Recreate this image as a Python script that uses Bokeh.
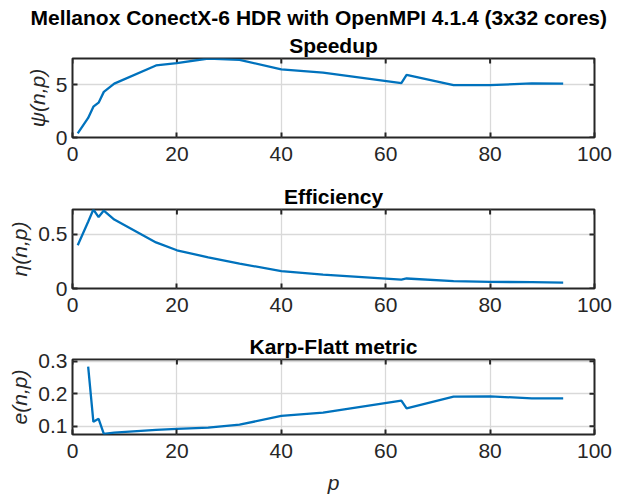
import math
from bokeh.plotting import figure
from bokeh.models import Range1d, FixedTicker, Title
from bokeh.layouts import column
from bokeh.embed import file_html
from bokeh.resources import INLINE

# ---- data ----
p_vals = [1, 3, 4, 5, 6, 8, 16, 20, 26, 32, 40, 48, 63, 64, 73, 80, 88, 94]
speedup = [0.40, 1.85, 2.92, 3.30, 4.32, 5.10, 6.82, 7.05, 7.48, 7.35, 6.45, 6.15,
           5.15, 5.92, 4.95, 4.95, 5.12, 5.10]
efficiency = [0.40, 0.617, 0.73, 0.66, 0.72, 0.637, 0.426, 0.353, 0.288, 0.23,
              0.161, 0.128, 0.082, 0.0925, 0.068, 0.062, 0.058, 0.054]
kf_p = [3, 4, 5, 6, 8, 16, 20, 26, 32, 40, 48, 63, 64, 73, 80, 88, 94]
karp_flatt = [0.283, 0.114, 0.123, 0.077, 0.081, 0.089, 0.092, 0.096, 0.105, 0.132,
              0.142, 0.179, 0.155, 0.191, 0.192, 0.186, 0.186]

x_ticks = [0, 20, 40, 60, 80, 100]
x_lo, x_hi = 0, 100
main_title = "Mellanox ConectX-6 HDR with OpenMPI 4.1.4 (3x32 cores)"

FONT = "Liberation Sans"
DARK = "#262626"
LINE = "#0072BD"
FS = "21px"
W = 635


def make(xs, ys, y_lo, y_hi, y_ticks, ylabel, title, height, top, bottom,
         top_title=None, xlabel=None):
    p = figure(width=W, height=height, output_backend="svg", toolbar_location=None,
               x_range=Range1d(x_lo, x_hi), y_range=Range1d(y_lo, y_hi),
               min_border_left=72, min_border_right=41,
               min_border_top=top, min_border_bottom=bottom)
    p.title = None
    p.outline_line_color = DARK
    p.outline_line_width = 2
    p.background_fill_color = "white"
    p.border_fill_color = "white"

    for ax in (p.xaxis[0], p.yaxis[0]):
        ax.major_tick_in = 5
        ax.major_tick_out = 0
        ax.minor_tick_line_color = None
        ax.axis_line_color = None
        ax.major_tick_line_color = DARK
        ax.major_tick_line_width = 2
        ax.major_label_text_font = FONT
        ax.major_label_text_font_size = FS
        ax.major_label_text_color = DARK
    p.xaxis.ticker = FixedTicker(ticks=x_ticks)
    p.yaxis.ticker = FixedTicker(ticks=y_ticks)
    p.xaxis.major_label_standoff = 9
    p.yaxis.major_label_standoff = 5
    p.yaxis.axis_label = ylabel
    p.yaxis.axis_label_text_font = FONT
    p.yaxis.axis_label_text_font_size = FS
    p.yaxis.axis_label_text_font_style = "italic"
    p.yaxis.axis_label_text_color = DARK
    p.yaxis.axis_label_standoff = 4
    if xlabel:
        p.xaxis.axis_label = xlabel
        p.xaxis.axis_label_text_font = FONT
        p.xaxis.axis_label_text_font_size = FS
        p.xaxis.axis_label_text_font_style = "italic"
        p.xaxis.axis_label_text_color = DARK
        p.xaxis.axis_label_standoff = 10

    p.xgrid.ticker = FixedTicker(ticks=x_ticks)
    p.ygrid.ticker = FixedTicker(ticks=y_ticks)
    p.grid.grid_line_color = "#d9d9d9"
    p.grid.grid_line_width = 1.3

    # inward box ticks on the top and right edges (clipped to the frame)
    p.scatter(x_ticks, [y_hi] * len(x_ticks), marker="dash", angle=math.pi / 2,
              size=10, line_color=DARK, line_width=2)
    p.scatter([x_hi] * len(y_ticks), y_ticks, marker="dash",
              size=10, line_color=DARK, line_width=2)

    p.add_layout(Title(text=title, align="center", text_font=FONT,
                       text_font_size=FS, text_font_style="bold",
                       text_color="black", standoff=3), "above")
    if top_title:
        p.add_layout(Title(text=top_title, align="left", offset=-42, text_font=FONT,
                           text_font_size=FS, text_font_style="bold",
                           text_color="black", standoff=3), "above")

    p.line(xs, ys, line_color=LINE, line_width=2.3)
    return p


p1 = make(p_vals, speedup, 0, max(speedup), [0, 5], "\u03c8(n,p)", "Speedup",
          170, 58, 33, top_title=main_title)
p2 = make(p_vals, efficiency, 0, max(efficiency), [0, 0.5], "\u03b7(n,p)", "Efficiency",
          150, 39, 32)
p3 = make(kf_p, karp_flatt, 0.075, 0.305, [0.1, 0.2, 0.3], "e(n,p)", "Karp-Flatt metric",
          176, 39, 57, xlabel="p")

layout = column(p1, p2, p3, spacing=0)
open("out.html", "w").write(file_html(layout, INLINE))
